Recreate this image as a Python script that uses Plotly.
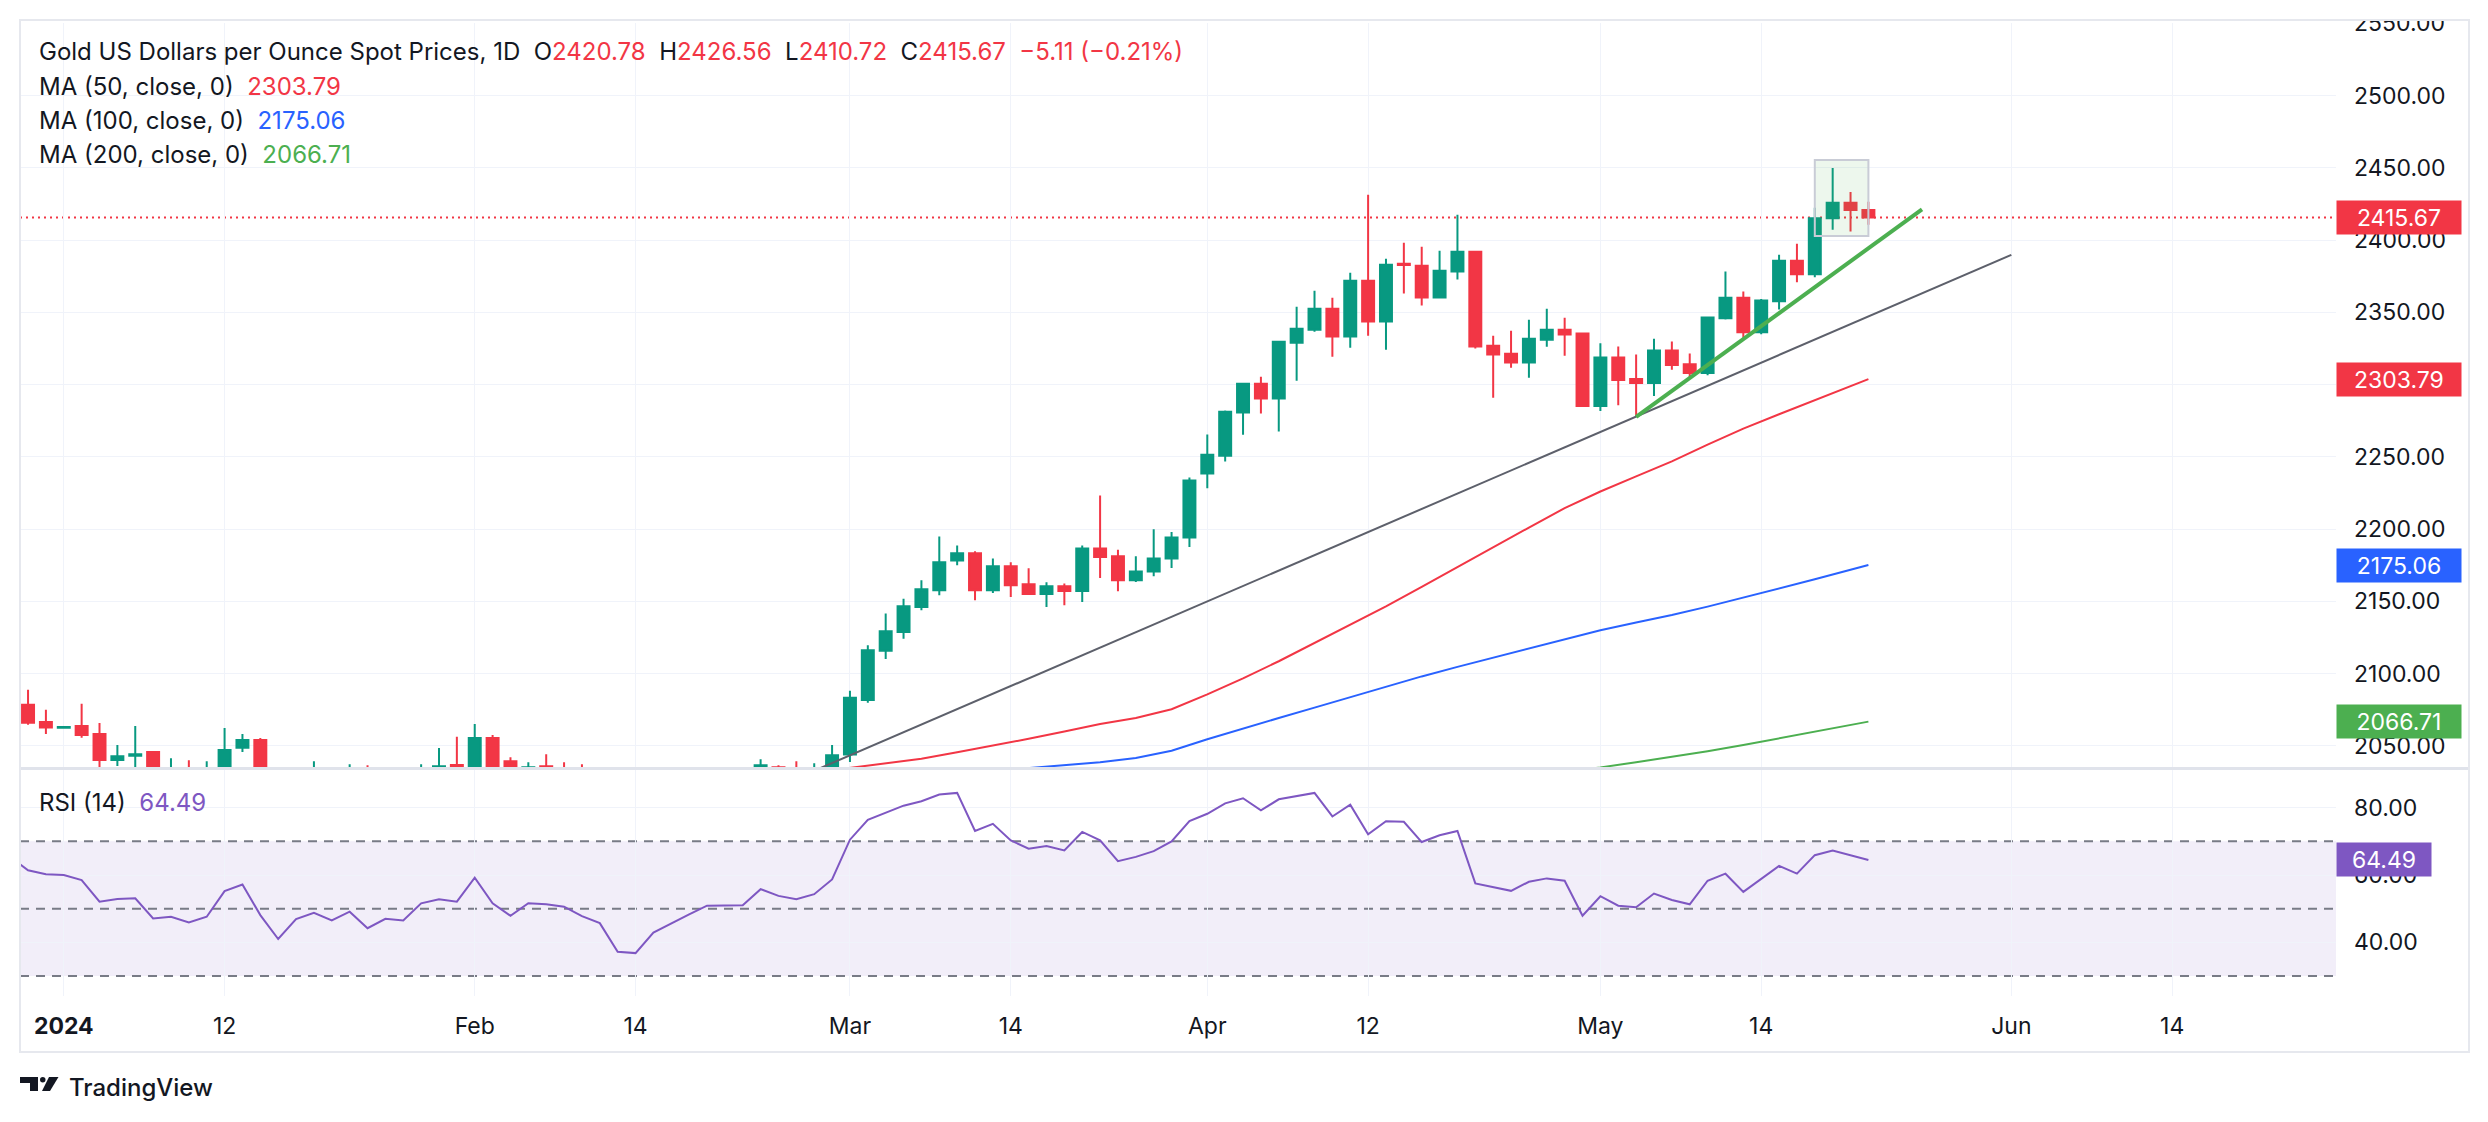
# ---------- LIBRARIES ---------- #
import pandas as pd
import plotly.graph_objects as go
from plotly.subplots import make_subplots

# ---------- DATA ---------- #
# one daily bar per trading day, Dec 27 2023 -> May 22 2024 (no bar on Good Friday)
first_day = "2023-12-27"
last_day = "2024-05-22"
holidays = ["2024-03-29"]

opens = [2067.2,
         2078.4, 2066.5, 2062.4, 2063.7, 2058.1, 2040.2, 2043.0, 2045.6, 2027.5, 2029.9,
         2024.6, 2028.9, 2048.6, 2054.0, 2028.3, 2006.3, 2023.2, 2029.5, 2021.8, 2029.3,
         2014.2, 2021.1, 2018.0, 2032.6, 2036.7, 2035.0, 2055.3, 2039.3, 2025.0, 2035.8,
         2034.6, 2033.9, 2024.5, 2019.7, 1992.8, 1992.1, 2004.1, 2013.3, 2017.3, 2024.8,
         2025.6, 2024.2, 2035.1, 2031.1, 2030.5, 2034.1, 2044.0, 2081.6, 2115.7, 2128.8,
         2146.1, 2157.6, 2178.3, 2183.2, 2157.6, 2174.2, 2161.8, 2155.1, 2160.4, 2157.1,
         2186.6, 2181.1, 2164.5, 2170.7, 2179.7, 2194.2, 2238.5, 2250.7, 2280.7, 2300.6,
         2290.4, 2329.0, 2337.9, 2352.5, 2333.3, 2371.9, 2343.7, 2383.6, 2382.2, 2360.3,
         2378.3, 2391.9, 2326.9, 2321.3, 2315.3, 2331.0, 2337.9, 2335.4, 2285.2, 2318.8,
         2303.9, 2301.1, 2323.6, 2314.0, 2308.0, 2346.0, 2360.2, 2336.3, 2357.7, 2385.8,
         2376.4, 2415.2, 2425.8, 2420.78]
highs = [2088.5,
         2088.8, 2074.9, 2063.2, 2079.1, 2065.8, 2050.5, 2063.7, 2046.3, 2041.4, 2040.0,
         2039.3, 2062.3, 2058.1, 2055.3, 2031.5, 2023.8, 2039.3, 2033.6, 2037.2, 2036.5,
         2024.2, 2028.1, 2037.2, 2048.4, 2056.3, 2065.1, 2057.4, 2042.1, 2038.6, 2044.2,
         2038.6, 2037.2, 2029.1, 2031.5, 1995.6, 2008.6, 2015.5, 2022.0, 2031.0, 2033.1,
         2034.9, 2040.7, 2036.5, 2039.3, 2037.9, 2050.5, 2088.1, 2119.6, 2141.5, 2151.8,
         2164.5, 2194.9, 2188.7, 2184.6, 2179.7, 2177.0, 2172.8, 2163.1, 2162.4, 2188.7,
         2223.3, 2185.7, 2181.1, 2199.8, 2197.9, 2235.7, 2265.4, 2282.0, 2301.2, 2305.4,
         2330.3, 2353.9, 2364.9, 2360.1, 2377.4, 2431.4, 2387.1, 2398.2, 2395.4, 2392.6,
         2417.5, 2392.3, 2333.8, 2337.3, 2344.9, 2352.5, 2346.3, 2336.1, 2328.7, 2326.4,
         2320.9, 2331.7, 2329.9, 2321.6, 2347.1, 2378.2, 2364.4, 2359.3, 2389.9, 2397.5,
         2422.4, 2450.0, 2433.4, 2426.56]
lows = [2064.2,
        2064.5, 2058.1, 2062.2, 2055.6, 2030.5, 2036.0, 2024.5, 2016.8, 2021.5, 2016.2,
        2013.5, 2028.0, 2045.6, 2027.6, 2001.9, 2005.1, 2020.9, 2016.5, 2010.2, 2011.4,
        2009.4, 2015.6, 2010.9, 2029.9, 2030.1, 2031.2, 2030.3, 2014.8, 2022.5, 2029.6,
        2027.4, 2021.4, 2016.8, 1990.3, 1984.3, 1990.4, 1996.9, 2011.7, 2014.3, 2018.4,
        2020.4, 2021.1, 2025.7, 2026.6, 2024.4, 2024.4, 2038.8, 2079.7, 2110.1, 2124.0,
        2143.8, 2154.1, 2174.9, 2150.7, 2155.8, 2153.0, 2154.8, 2146.1, 2147.2, 2149.5,
        2166.1, 2156.9, 2163.4, 2167.3, 2173.0, 2187.6, 2228.3, 2246.8, 2265.3, 2280.0,
        2267.6, 2302.7, 2336.6, 2319.3, 2325.5, 2333.8, 2324.1, 2363.1, 2354.8, 2359.8,
        2372.8, 2325.0, 2290.9, 2311.6, 2304.7, 2326.2, 2320.0, 2285.0, 2281.8, 2285.7,
        2277.6, 2292.1, 2310.3, 2304.1, 2306.4, 2345.1, 2332.4, 2334.9, 2352.0, 2370.8,
        2374.3, 2407.2, 2406.0, 2410.72]
closes = [2077.9,
          2066.0, 2062.6, 2062.9, 2057.4, 2040.2, 2042.8, 2044.2, 2027.5, 2029.9, 2024.6,
          2028.9, 2047.0, 2054.0, 2028.3, 2006.3, 2023.2, 2029.5, 2021.8, 2029.3, 2014.2,
          2021.1, 2018.0, 2032.6, 2035.8, 2035.3, 2055.3, 2035.1, 2025.0, 2035.1, 2034.6,
          2033.9, 2024.5, 2019.7, 1992.8, 1992.1, 2004.1, 2013.3, 2017.3, 2024.8, 2025.6,
          2024.2, 2036.5, 2031.1, 2030.5, 2034.1, 2043.5, 2083.3, 2116.1, 2129.3, 2146.5,
          2158.3, 2177.0, 2183.2, 2157.6, 2174.2, 2161.1, 2155.1, 2160.4, 2157.1, 2186.6,
          2180.6, 2164.5, 2170.7, 2179.7, 2194.2, 2233.6, 2251.5, 2281.2, 2300.6, 2290.4,
          2329.6, 2338.6, 2352.5, 2333.3, 2371.9, 2343.7, 2382.9, 2382.7, 2360.3, 2378.8,
          2391.9, 2326.4, 2320.9, 2315.3, 2331.7, 2337.9, 2334.7, 2285.2, 2318.8, 2303.2,
          2301.1, 2323.6, 2313.5, 2308.0, 2346.4, 2360.2, 2336.3, 2358.2, 2385.8, 2376.4,
          2415.2, 2425.8, 2420.78, 2415.67]
rsi = [65.4,
       61.4, 60.2, 60.0, 58.5, 52.1, 52.9, 53.1, 47.1, 47.6, 45.9,
       47.6, 55.2, 57.2, 48.1, 41.0, 46.9, 48.8, 46.5, 49.1, 44.2,
       47.0, 46.5, 51.6, 52.8, 52.1, 59.2, 51.6, 47.9, 51.6, 51.3,
       50.6, 47.8, 45.7, 37.2, 36.8, 42.9, 45.7, 48.3, 50.9, 50.9,
       51.0, 55.8, 53.8, 52.8, 54.3, 58.7, 70.5, 76.4, 78.4, 80.6,
       81.9, 83.9, 84.4, 73.1, 75.2, 70.3, 67.8, 68.6, 67.3, 72.8,
       70.3, 64.1, 65.4, 67.1, 70.0, 76.0, 78.2, 81.3, 82.8, 79.2,
       82.5, 83.4, 84.4, 77.4, 80.9, 72.1, 76.0, 75.8, 69.8, 71.8,
       73.1, 57.5, 56.5, 55.3, 58.0, 59.0, 58.3, 47.9, 53.7, 50.9,
       50.4, 54.5, 52.6, 51.3, 58.3, 60.4, 55.0, 58.8, 62.7, 60.4,
       65.9, 67.3, 65.9, 64.49]

# moving averages, read every second bar from the first date, last value on last_day
ma50_from = "2024-02-28"
ma50 = [2031.5, 2034.5, 2037.8, 2041.0, 2045.5, 2050.0, 2054.8, 2059.8, 2065.0, 2069.2,
        2075.3, 2085.6, 2096.6, 2108.5, 2121.0, 2133.8, 2146.5, 2160.0, 2173.8, 2187.5,
        2201.0, 2214.5, 2226.0, 2236.5, 2246.8, 2258.5, 2269.5, 2279.5, 2289.1, 2299.0,
        2303.79]
ma100_from = "2024-03-13"
ma100 = [2032.5, 2034.5, 2036.5, 2038.6, 2041.5, 2046.5, 2054.5, 2062.0, 2069.2, 2076.4,
         2083.6, 2091.0, 2098.0, 2104.6, 2111.0, 2117.6, 2124.0, 2130.0, 2135.3, 2140.5,
         2146.3, 2152.5, 2158.8, 2165.2, 2171.8, 2175.06]
ma200_from = "2024-04-29"
ma200 = [2032.0, 2035.0, 2038.6, 2042.2, 2046.2, 2050.5, 2055.0, 2059.6, 2064.4, 2066.71]

# drawings
trend_days = ["2024-02-28", "2024-06-03"]
trend_prices = [2032.7, 2389.8]
support_days = ["2024-05-03", "2024-05-27"]
support_prices = [2277.6, 2421.3]
box_days = ["2024-05-17", "2024-05-22"]
box_prices = [2402.8, 2455.5]

tick_days = ["2024-01-01", "2024-01-12", "2024-02-01", "2024-02-14", "2024-03-01", "2024-03-14",
             "2024-04-01", "2024-04-12", "2024-05-01", "2024-05-14", "2024-06-03", "2024-06-14"]
tick_text = ["<b>2024</b>", "12", "Feb", "14", "Mar", "14", "Apr", "12", "May", "14", "Jun", "14"]

# ---------- STYLE ---------- #
UP, DOWN = "#089981", "#f23645"
MA_COLORS = ["#f23645", "#2962ff", "#4caf50"]
RSI_COLOR = "#7e57c2"
TEXT = "#131722"
GRID = "#f0f3fa"
FONT = "Inter, Roboto, sans-serif"

W, H = 2470, 1100
M = dict(l=12, r=142, t=15, b=112, autoexpand=False)
PW = W - M["l"] - M["r"]
PH = H - M["t"] - M["b"]
OFF = 8  # default body margin of the html page


def fx(px):
    """page pixel -> paper x"""
    return (px - OFF - M["l"]) / PW


def fy(py):
    """page pixel -> paper y"""
    return (H - M["b"] - (py - OFF)) / PH


# ---------- AXIS CALENDAR ---------- #
calendar = [d for d in pd.bdate_range(first_day, "2024-06-28").strftime("%Y-%m-%d") if d not in holidays]
bar_of = {d: i for i, d in enumerate(calendar)}
bars = list(range(len(closes)))


def ma_bars(start, values):
    idx = list(range(bar_of[start], bar_of[last_day], 2))[:len(values) - 1]
    return idx + [bar_of[last_day]]


# ---------- FIGURE ---------- #
fig = make_subplots(rows=2, cols=1, shared_xaxes=True, vertical_spacing=0.0)

fig.add_trace(go.Candlestick(
    x=bars, open=opens, high=highs, low=lows, close=closes,
    increasing=dict(line=dict(color=UP, width=2), fillcolor=UP),
    decreasing=dict(line=dict(color=DOWN, width=2), fillcolor=DOWN),
    whiskerwidth=0, showlegend=False), row=1, col=1)

for start, vals, color in zip([ma50_from, ma100_from, ma200_from], [ma50, ma100, ma200], MA_COLORS):
    fig.add_trace(go.Scatter(x=ma_bars(start, vals), y=vals, mode="lines",
                             line=dict(color=color, width=2), showlegend=False), row=1, col=1)

fig.add_trace(go.Scatter(x=[bar_of[d] for d in trend_days], y=trend_prices, mode="lines",
                         line=dict(color="#5d606b", width=2), showlegend=False), row=1, col=1)
fig.add_trace(go.Scatter(x=[bar_of[d] for d in support_days], y=support_prices, mode="lines",
                         line=dict(color="#4caf50", width=4), showlegend=False), row=1, col=1)

fig.add_trace(go.Scatter(x=bars, y=rsi, mode="lines", line=dict(color=RSI_COLOR, width=2),
                         showlegend=False), row=2, col=1)

# highlight box on the last bars
fig.add_shape(type="rect", xref="x", yref="y",
              x0=bar_of[box_days[0]], x1=bar_of[box_days[1]], y0=box_prices[0], y1=box_prices[1],
              fillcolor="rgba(76,175,80,0.1)", line=dict(color="#c9ccd6", width=2), layer="above")

# last price line
fig.add_shape(type="line", xref="paper", yref="y", x0=0, x1=1, y0=closes[-1], y1=closes[-1],
              line=dict(color=DOWN, width=2, dash="2px,4px"), layer="between")

# RSI band and levels
fig.add_shape(type="rect", xref="paper", yref="y2", x0=0, x1=1, y0=30, y1=70,
              fillcolor="rgba(126,87,194,0.1)", line=dict(width=0), layer="below")
for lvl in [70, 50, 30]:
    fig.add_shape(type="line", xref="paper", yref="y2", x0=0, x1=1, y0=lvl, y1=lvl,
                  line=dict(color="#787b86", width=2, dash="9px,7px"), layer="between")

# white strip above the frame (the top price label is cut there)
fig.add_shape(type="rect", xref="paper", yref="paper", x0=fx(2300), x1=fx(2480), y0=fy(19.5), y1=fy(0),
              fillcolor="white", line=dict(width=0), layer="above")

# pane separator and outer frame
fig.add_shape(type="line", xref="paper", yref="paper", x0=fx(20), x1=fx(2469), y0=fy(768.5), y1=fy(768.5),
              line=dict(color="#e0e3eb", width=3))
fig.add_shape(type="rect", xref="paper", yref="paper", x0=fx(20), x1=fx(2469), y0=fy(1052), y1=fy(20),
              line=dict(color="#e6e8ee", width=2))

# ---------- LABELS ---------- #
red = f"color:{DOWN}"


def legend(text, page_y):
    fig.add_annotation(x=fx(37), y=fy(page_y), xref="paper", yref="paper", xanchor="left",
                       yanchor="middle", text=text, showarrow=False, font=dict(size=24, color=TEXT))


chg = closes[-1] - closes[-2]
pct = chg / closes[-2] * 100
ohlc = "&nbsp;&nbsp;".join(f"{k}<span style='{red}'>{v:.2f}</span>"
                           for k, v in zip("OHLC", [opens[-1], highs[-1], lows[-1], closes[-1]]))
legend("Gold US Dollars per Ounce Spot Prices, 1D&nbsp;&nbsp;" + ohlc +
       f"&nbsp;&nbsp;<span style='{red}'>{chg:+.2f} ({pct:+.2f}%)</span>".replace("-", "−"), 52)
for (n, vals, color, py) in zip([50, 100, 200], [ma50, ma100, ma200], MA_COLORS, [86, 120.5, 154.5]):
    legend(f"MA ({n}, close, 0)&nbsp;&nbsp;<span style='color:{color}'>{vals[-1]:.2f}</span>", py)
legend(f"RSI (14)&nbsp;&nbsp;<span style='color:{RSI_COLOR}'>{rsi[-1]:.2f}</span>", 802)


def axis_tag(value, color, yref, width):
    fig.add_annotation(x=1, y=value, xref="paper", yref=yref, xanchor="left", yanchor="middle",
                       text=f"{value:.2f}", showarrow=False, bgcolor=color, borderpad=3,
                       width=width, height=27, align="center", font=dict(size=23, color="white"))


axis_tag(closes[-1], DOWN, "y", 118)
for vals, color in zip([ma50, ma100, ma200], MA_COLORS):
    axis_tag(vals[-1], color, "y", 118)
axis_tag(rsi[-1], RSI_COLOR, "y2", 88)

# TradingView logo
def path(points):
    return "M " + " L ".join(f"{fx(x):.5f},{fy(y):.5f}" for x, y in points) + " Z"


fig.add_shape(type="path", xref="paper", yref="paper", fillcolor=TEXT, line=dict(width=0),
              path=path([(20, 1077), (38, 1077), (38, 1091), (30, 1091), (30, 1083), (20, 1083)]))
fig.add_shape(type="circle", xref="paper", yref="paper", fillcolor=TEXT, line=dict(width=0),
              x0=fx(40), x1=fx(45.5), y0=fy(1082.5), y1=fy(1077))
fig.add_shape(type="path", xref="paper", yref="paper", fillcolor=TEXT, line=dict(width=0),
              path=path([(49, 1077), (58.5, 1077), (50, 1091), (42, 1091)]))
fig.add_annotation(x=fx(67), y=fy(1087), xref="paper", yref="paper", xanchor="left", yanchor="middle",
                   text="TradingView", showarrow=False, font=dict(size=24, color=TEXT, weight=500))

# ---------- LAYOUT ---------- #
tickvals = [bar_of[d] for d in tick_days]
x_common = dict(range=[0.55, 130.17], tickmode="array", tickvals=tickvals, ticktext=tick_text,
                showgrid=True, gridcolor=GRID, gridwidth=1, zeroline=False, showline=False,
                rangeslider=dict(visible=False), fixedrange=True, automargin=False)
y_common = dict(side="right", showgrid=True, gridcolor=GRID, gridwidth=1, zeroline=False,
                showline=False, tickformat=".2f", ticklabelstandoff=17, automargin=False,
                tickfont=dict(size=23, color=TEXT), fixedrange=True)

fig.update_layout(
    width=W, height=H, margin=M,
    paper_bgcolor="white", plot_bgcolor="rgba(0,0,0,0)",
    font=dict(family=FONT, color=TEXT),
    hovermode=False, dragmode=False, showlegend=False,
    boxgap=0.33, boxgroupgap=0,
    xaxis=dict(x_common, showticklabels=False),
    xaxis2=dict(x_common, showticklabels=True, ticks="", ticklabelstandoff=14,
                tickfont=dict(size=23, color=TEXT)),
    yaxis=dict(y_common, domain=[fy(768), 1], range=[2034.6, 2550.3], tick0=2050, dtick=50),
    yaxis2=dict(y_common, domain=[0, fy(769)], range=[24.06, 91.5], tickvals=[40, 60, 80]),
)

fig.write_html("out.html", config={"displayModeBar": False})
